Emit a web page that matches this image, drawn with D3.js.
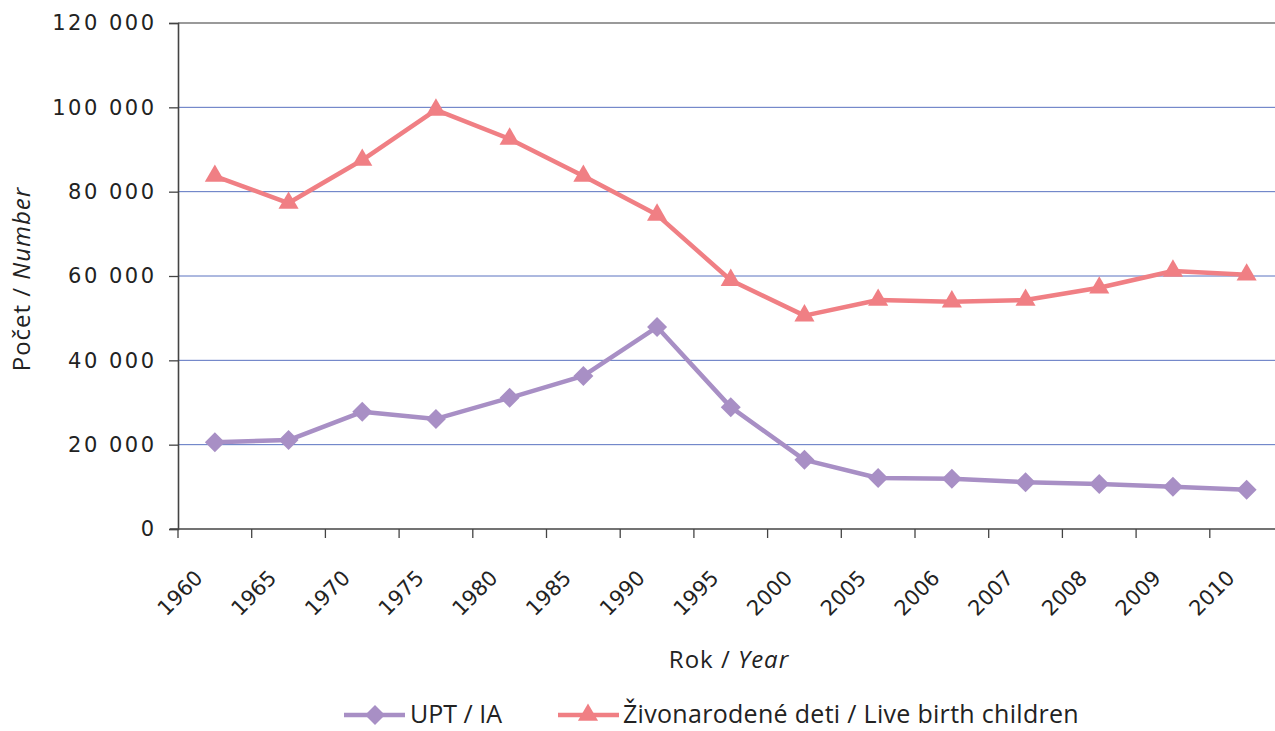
<!DOCTYPE html>
<html><head><meta charset="utf-8">
<script src="https://cdn.jsdelivr.net/npm/d3@7"></script>
<style>
html,body{margin:0;padding:0;background:#fff;}
svg{display:block;}
.tick text{font-family:"DejaVu Sans",sans-serif;}
</style></head>
<body><svg id="c" width="1275" height="731"></svg>
<script>
const years = ["1960","1965","1970","1975","1980","1985","1990","1995","2000","2005","2006","2007","2008","2009","2010"];
const upt = [20600,21100,27800,26100,31100,36300,47900,28900,16400,12100,11900,11100,10700,10000,9300];
const births = [83700,77300,87500,99400,92500,83700,74500,59000,50600,54300,53900,54300,57200,61200,60300];
const yTicks = [0,20000,40000,60000,80000,100000,120000];
const seriesNames = ["UPT / IA","Živonarodené deti / Live birth children"];
const colors = ["#a88fc5","#f07f84"];

(function(){
const svg = d3.select("#c");
const mLeft = 178, mTop = 23, mBottom = 529;
const bw = 73.7;
const x = d3.scaleBand().domain(years).range([mLeft, mLeft + bw*years.length]).padding(0);
const y = d3.scaleLinear().domain([0,120000]).range([mBottom, mTop]);
const cx = d => x(d) + x.bandwidth()/2;
const textFont = '"Open Sans","Noto Sans",sans-serif';

// gridlines
svg.append("g").selectAll("line").data(yTicks.filter(v=>v>0)).join("line")
  .attr("x1", mLeft).attr("x2", 1275)
  .attr("y1", d=>y(d)).attr("y2", d=>y(d))
  .attr("stroke", d=> d===120000 ? "#9a9a9a" : "#5a72c0")
  .attr("stroke-width", d=> d===120000 ? 2 : 1);

// y axis
const ya = svg.append("g").attr("transform",`translate(${mLeft},0)`)
  .call(d3.axisLeft(y).tickValues(yTicks).tickSize(9).tickPadding(12.5)
    .tickFormat(d => d3.format(",")(d).replace(/,/g," ")));
ya.select(".domain").attr("stroke","#444").attr("stroke-width",1.6);
ya.selectAll(".tick line").attr("stroke","#444").attr("stroke-width",1.3);
ya.selectAll(".tick text").attr("font-size",21).attr("fill","#222").attr("letter-spacing","2.5px");

// x axis
const xa = svg.append("g").attr("transform",`translate(0,${mBottom})`);
xa.append("line").attr("x1",mLeft-8).attr("x2",1275).attr("stroke","#444").attr("stroke-width",1.6);
const bounds = years.map(d=>x(d));
xa.selectAll("line.t").data(bounds).join("line").attr("class","t")
  .attr("x1",d=>d).attr("x2",d=>d).attr("y1",0).attr("y2",9)
  .attr("stroke","#444").attr("stroke-width",1.3);
xa.selectAll("text").data(years).join("text")
  .attr("transform", d=>`translate(${cx(d)-16},${45}) rotate(-45)`)
  .attr("text-anchor","end").attr("dy","0.35em")
  .attr("font-family","DejaVu Sans, sans-serif").attr("font-size",21)
  .attr("fill","#222").text(d=>d);

// axis titles
const yt = svg.append("text").attr("transform","translate(30,279) rotate(-90)")
  .attr("text-anchor","middle").attr("font-family",textFont).attr("font-size",24)
  .attr("letter-spacing","1px").attr("fill","#222");
yt.append("tspan").text("Počet / ");
yt.append("tspan").attr("font-style","italic").text("Number");
const xt = svg.append("text").attr("x",729).attr("y",668)
  .attr("text-anchor","middle").attr("font-family",textFont).attr("font-size",24)
  .attr("letter-spacing","1px").attr("fill","#222");
xt.append("tspan").text("Rok / ");
xt.append("tspan").attr("font-style","italic").text("Year");

// lines
const line = d3.line().x((d,i)=>cx(years[i])).y(d=>y(d));
const diamond = d3.symbol().type(d3.symbolSquare).size(200);
const tri = d3.symbol().type(d3.symbolTriangle).size(175);

svg.append("path").datum(upt).attr("d",line).attr("fill","none")
  .attr("stroke",colors[0]).attr("stroke-width",4.5).attr("stroke-linejoin","round");
svg.append("g").selectAll("path").data(upt).join("path")
  .attr("d",diamond).attr("fill",colors[0])
  .attr("transform",(d,i)=>`translate(${cx(years[i])},${y(d)}) rotate(45)`);

svg.append("path").datum(births).attr("d",line).attr("fill","none")
  .attr("stroke",colors[1]).attr("stroke-width",4.5).attr("stroke-linejoin","round");
svg.append("g").selectAll("path").data(births).join("path")
  .attr("d",tri).attr("fill",colors[1])
  .attr("transform",(d,i)=>`translate(${cx(years[i])},${y(d)})`);

// legend
const lg = svg.append("g");
const ly = 715;
lg.append("line").attr("x1",344).attr("x2",405).attr("y1",ly).attr("y2",ly).attr("stroke",colors[0]).attr("stroke-width",4.5);
lg.append("path").attr("d",diamond).attr("fill",colors[0]).attr("transform",`translate(375,${ly}) rotate(45)`);
lg.append("text").attr("x",410).attr("y",723).attr("font-family",textFont).attr("font-size",25).attr("fill","#222").text(seriesNames[0]);
lg.append("line").attr("x1",558).attr("x2",619).attr("y1",ly).attr("y2",ly).attr("stroke",colors[1]).attr("stroke-width",4.5);
lg.append("path").attr("d",tri).attr("fill",colors[1]).attr("transform",`translate(588,${ly})`);
lg.append("text").attr("x",623).attr("y",723).attr("font-family",textFont).attr("font-size",25).attr("letter-spacing","0.3px").attr("fill","#222").text(seriesNames[1]);
})();
</script></body></html>
